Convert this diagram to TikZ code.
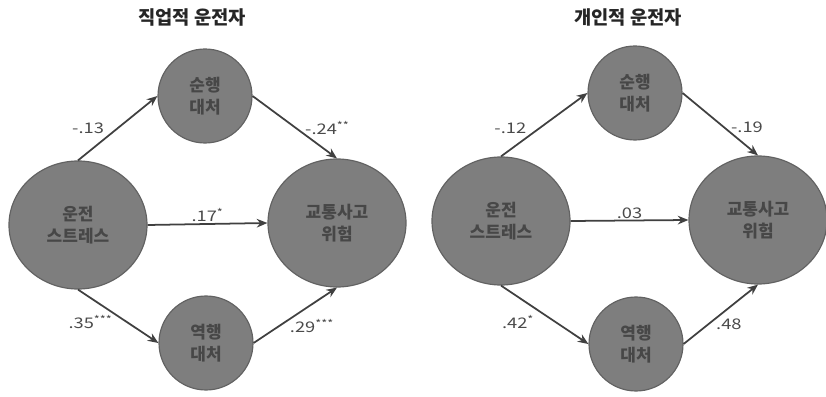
\documentclass[tikz,border=0pt]{standalone}
\usepackage{fontspec}
\setmainfont{Noto Sans CJK KR}
\newfontfamily\lblfont{Noto Sans CJK KR}[FakeStretch=1.25]
\usetikzlibrary{arrows.meta, positioning, shapes.geometric}
\definecolor{cfill}{HTML}{7E7E7E}
\definecolor{cline}{HTML}{626262}
\definecolor{ctext}{HTML}{474747}
\definecolor{carrow}{HTML}{404040}
\definecolor{clabel}{HTML}{4A4A4A}
\tikzset{
  every picture/.style={x=0.3mm, y=-0.3mm, line width=1pt},
  var/.style={ellipse, draw=cline, fill=cfill, text=ctext, align=center, inner sep=0pt,
    font=\fontsize{14.5}{19}\selectfont\bfseries},
  small/.style={var, minimum width=28.2mm, minimum height=28.2mm},
  big/.style={var, minimum width=41.4mm, minimum height=38.4mm},
  arrow/.style={-{Stealth[length=3.2mm, width=2.6mm]}, draw=carrow, line width=1.5pt},
  title/.style={font=\fontsize{16}{19}\selectfont\bfseries, text=black!85},
  lbl/.style={font=\lblfont\fontsize{12.5}{14}\selectfont, text=clabel, inner sep=1pt},
}

\begin{document}
\begin{tikzpicture}
  \useasboundingbox (0,0) rectangle (826,397);
  % occupational drivers
  \node[title] (t1) at (192,17) {직업적 운전자};
  \node[small] (p1) at (205,96) {순행\\대처};
  \node[big] (s1) at (78,225) {운전\\스트레스};
  \node[big] (a1) at (337,223) {교통사고\\위험};
  \node[small] (r1) at (206,343) {역행\\대처};
  \draw[arrow] (s1.north) -- node[lbl, pos=.5, left=3.5mm] {-.13} (p1.west);
  \draw[arrow] (p1.east) -- node[lbl, pos=.52, right=2mm] {-.24\textsuperscript{**}} (a1.north);
  \draw[arrow] (s1.east) -- node[lbl, midway, above] {.17\textsuperscript{*}} (a1.west);
  \draw[arrow] (s1.south) -- node[lbl, pos=.6, left=3.5mm] {.35\textsuperscript{***}} (r1.west);
  \draw[arrow] (r1.east) -- node[lbl, pos=.3, right=2.8mm] {.29\textsuperscript{***}} (a1.south);
  % private drivers
  \node[title] (t2) at (628,17) {개인적 운전자};
  \node[small] (p2) at (635,93) {순행\\대처};
  \node[big] (s2) at (501,221) {운전\\스트레스};
  \node[big] (a2) at (758,220) {교통사고\\위험};
  \node[small] (r2) at (636,344) {역행\\대처};
  \draw[arrow] (s2.north) -- node[lbl, pos=.45, left=3.5mm] {-.12} (p2.west);
  \draw[arrow] (p2.east) -- node[lbl, pos=.55, right=1.5mm] {-.19} (a2.north);
  \draw[arrow] (s2.east) -- node[lbl, midway, above] {.03} (a2.west);
  \draw[arrow] (s2.south) -- node[lbl, pos=.63, left=6mm] {.42\textsuperscript{*}} (r2.west);
  \draw[arrow] (r2.east) -- node[lbl, pos=.33, right=1.8mm] {.48} (a2.south);
\end{tikzpicture}
\end{document}
